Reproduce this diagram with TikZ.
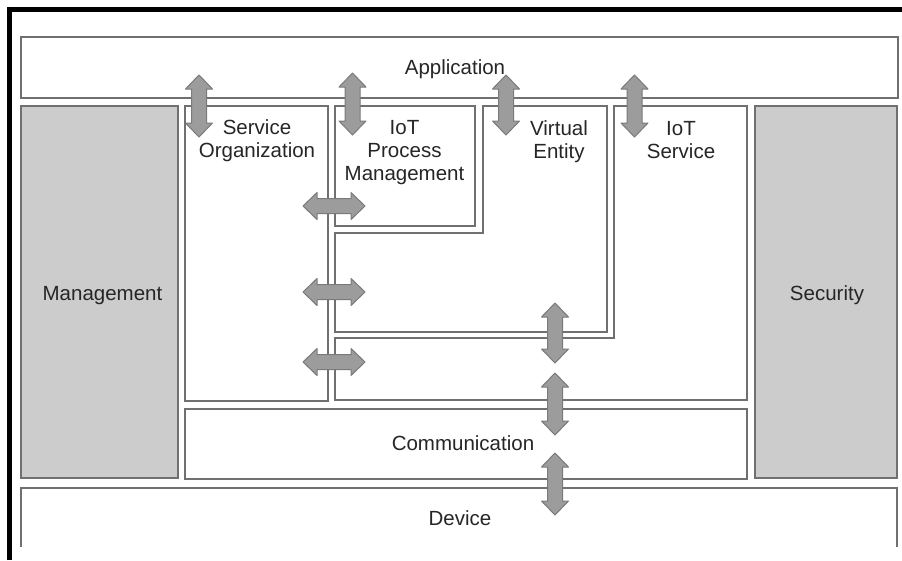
\documentclass[tikz,border=0pt]{standalone}
\usepackage{fontspec}
\setmainfont{Liberation Sans}
\definecolor{boxline}{HTML}{707070}
\definecolor{sidefill}{HTML}{CCCCCC}
\definecolor{arrfill}{HTML}{9C9C9C}
\definecolor{arredge}{HTML}{7A7A7A}
\definecolor{txt}{HTML}{262626}
\tikzset{
  box/.style={draw=boxline, line width=1.6pt, line join=miter},
  sidebox/.style={box, fill=sidefill},
  arr/.style={fill=arrfill, draw=arredge, line width=1pt, line join=round},
  lbl/.style={text=txt, font=\fontsize{20.5}{23}\selectfont, align=center, inner sep=0pt, anchor=base},
}
\newcommand\varrow[3]{% x, ytop, ybottom
  \pgfmathsetmacro\shaftlen{#3-#2-28}
  \path[arr] (#1,#2) -- ++(13.5,14) -- ++(-6,0) -- ++(0,\shaftlen) -- ++(6,0)
    -- (#1,#3) -- ++(-13.5,-14) -- ++(6,0) -- ++(0,-\shaftlen) -- ++(-6,0) -- cycle;}
\newcommand\harrow[3]{% y, xleft, xright
  \pgfmathsetmacro\shaftlen{#3-#2-28}
  \path[arr] (#2,#1) -- ++(14,-13.5) -- ++(0,6) -- ++(\shaftlen,0) -- ++(0,-6)
    -- (#3,#1) -- ++(-14,13.5) -- ++(0,-6) -- ++(-\shaftlen,0) -- ++(0,6) -- cycle;}
\begin{document}
\begin{tikzpicture}[x=1pt, y=-1pt]
\useasboundingbox (0,0) rectangle (902,560);
\fill[white] (0,0) rectangle (902,560);
% outer frame
\draw[black, line width=4.5pt, line join=miter] (9.5,560) -- (9.5,9.5) -- (902,9.5);
% application
\draw[box] (21,37) rectangle (898,98);
% side boxes
\draw[sidebox] (21,106) rectangle (178,478);
\draw[sidebox] (755,106) rectangle (897,478);
% service organization
\draw[box] (185,106) rectangle (328,401);
% IoT process management
\draw[box] (335,106) rectangle (475,226);
% virtual entity (L shape)
\draw[box] (483,106) -- (607,106) -- (607,332) -- (335,332) -- (335,233) -- (483,233) -- cycle;
% IoT service (L shape)
\draw[box] (614,106) -- (747,106) -- (747,400) -- (335,400) -- (335,338) -- (614,338) -- cycle;
% communication
\draw[box] (185,409) rectangle (747,479);
% device (open at bottom)
\draw[box] (21,547) -- (21,488) -- (897,488) -- (897,547);
% labels (base = baseline of last line)
\node[lbl] (app) at (455,74) {Application};
\node[lbl] (mgmt) at (102.5,300) {Management};
\node[lbl] (sec) at (827,300) {Security};
\node[lbl] (so) at (257,157) {Service\\Organization};
\node[lbl] (iotp) at (404.5,180) {IoT\\Process\\Management};
\node[lbl] (ve) at (559,158) {Virtual\\Entity};
\node[lbl] (iots) at (681,158) {IoT\\Service};
\node[lbl] (comm) at (463,450) {Communication};
\node[lbl] (dev) at (460,525) {Device};
% arrows
\varrow{199}{75}{137}
\varrow{352.5}{73}{135}
\varrow{506}{75}{135}
\varrow{634.5}{75}{137}
\harrow{206}{303}{365}
\harrow{292}{303}{365}
\harrow{362}{303}{365}
\varrow{555}{303}{363}
\varrow{555}{373}{435}
\varrow{555}{453}{515}
\end{tikzpicture}
\end{document}
